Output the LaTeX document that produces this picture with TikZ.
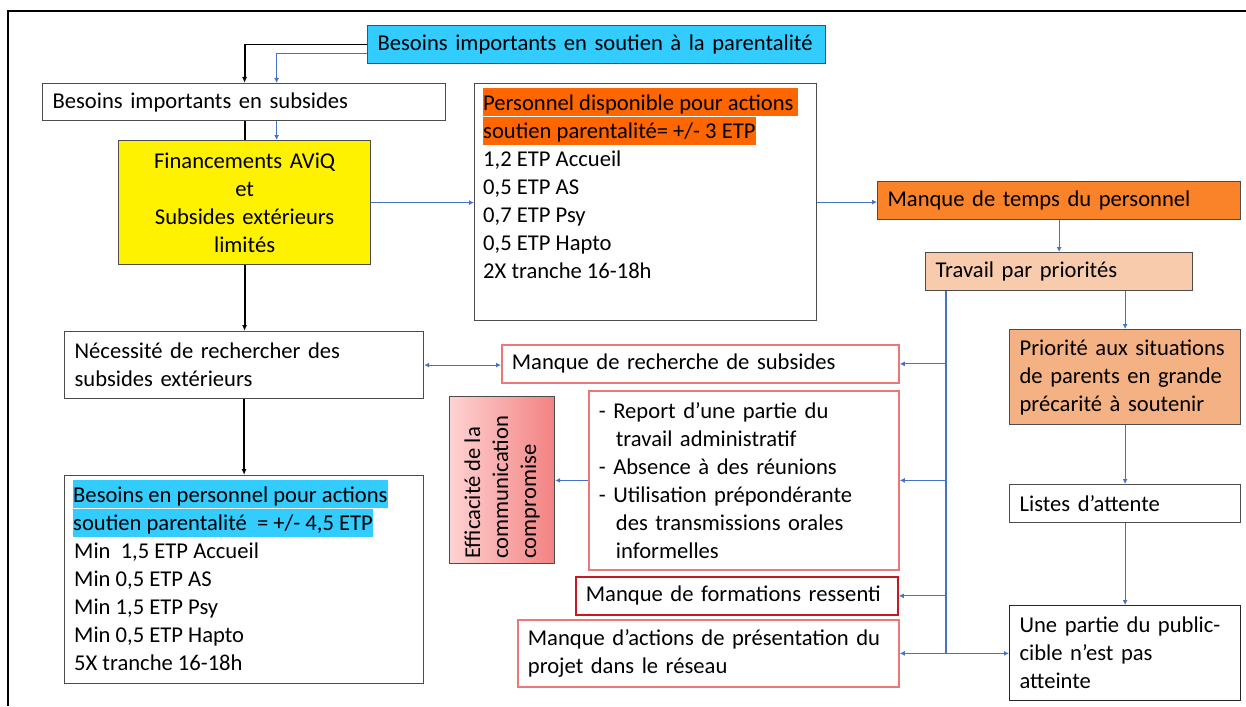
\documentclass[tikz,border=0pt]{standalone}
\usepackage{fontspec}
\setmainfont{Carlito}
\usepackage{tikz}
\usetikzlibrary{arrows.meta,positioning,calc}

\definecolor{cyanhl}{RGB}{51,204,255}
\definecolor{orangehl}{RGB}{255,102,0}
\definecolor{tempsfill}{RGB}{250,130,40}
\definecolor{travfill}{RGB}{248,203,173}
\definecolor{priofill}{RGB}{244,177,131}
\definecolor{redline}{RGB}{235,120,120}
\definecolor{darkred}{RGB}{200,25,35}
\definecolor{linkblue}{RGB}{68,114,196}
\definecolor{pinkL}{RGB}{255,210,210}
\definecolor{pinkD}{RGB}{242,130,130}

\newcommand{\dfont}{\fontsize{22.6pt}{28pt}\selectfont\hyphenpenalty=10000}

\begin{document}
\begin{tikzpicture}[x=1pt,y=-1pt,
  bx/.style={draw=black!70,line width=1.2pt,rectangle,anchor=north west,inner xsep=10pt,inner ysep=0pt,font=\dfont,align=left},
  rbx/.style={bx,draw=redline,line width=1.8pt},
  hl/.style={fill=#1,inner sep=0pt,anchor=north west,font=\dfont,text height=22pt,text depth=6pt},
  txt/.style={inner sep=0pt,anchor=base west,font=\dfont,align=left},
  blk/.style={line width=1.8pt,-{Latex[length=6pt,width=5pt]}},
  bline/.style={draw=linkblue,line width=1.1pt},
  blu/.style={bline,-{Latex[length=5pt,width=5pt]}}]
\useasboundingbox (0,0) rectangle (1246,706);
\draw[line width=2pt] (1246,11) -- (8,11) -- (8,706);

% left column
\node[bx,fill=cyanhl,inner xsep=8pt,text width=442pt,minimum height=38pt] (top) at (367,25) {\hspace*{2pt}Besoins importants en soutien à la parentalité};
\node[bx,text width=383pt,minimum height=37pt] (subs) at (42,83) {Besoins importants en subsides};
\node[bx,fill=yellow,text width=232pt,minimum height=124pt,align=center] (fin) at (118,140) {Financements AViQ\\et\\Subsides extérieurs\\limités};
\node[bx,text width=339pt,minimum height=67pt] (necess) at (64,331) {Nécessité de rechercher des\\subsides extérieurs};
\node[bx,inner sep=0pt,minimum width=359pt,minimum height=208pt] (besp) at (64,475) {};
\node[hl=cyanhl] (b1) at (73,480) {Besoins en personnel pour actions};
\node[hl=cyanhl] (b2) at (b1.south west) {soutien parentalité\ \ = +/- 4,5 ETP};
\node[txt] (b3) at (74,670) {Min\ \ 1,5 ETP Accueil\\Min 0,5 ETP AS\\Min 1,5 ETP Psy\\Min 0,5 ETP Hapto\\5X tranche 16-18h};

% personnel
\node[bx,inner sep=0pt,minimum width=342pt,minimum height=237pt] (pers) at (474,83) {};
\node[hl=orangehl] (p1) at (483,88) {Personnel disponible pour actions\hspace*{4pt}};
\node[hl=orangehl] (p2) at (p1.south west) {soutien parentalité= +/- 3 ETP};
\node[txt] (p3) at (483,278) {1,2 ETP Accueil\\0,5 ETP AS\\0,7 ETP Psy\\0,5 ETP Hapto\\2X tranche 16-18h};

% right column
\node[bx,fill=tempsfill,text width=343pt,minimum height=38pt] (temps) at (877,181) {Manque de temps du personnel};
\node[bx,fill=travfill,text width=247pt,minimum height=38pt] (trav) at (925,252) {Travail par priorités};
\node[bx,fill=priofill,text width=211pt,minimum height=95pt] (prio) at (1009,329) {Priorité aux situations\\de parents en grande\\précarité à soutenir};
\node[bx,text width=211pt,minimum height=38pt] (listes) at (1009,484) {Listes d’attente};
\node[bx,draw=black!85,text width=211pt,minimum height=95pt] (public) at (1009,605) {Une partie du public-\\cible n’est pas\\atteinte};

% middle
\node[rbx,text width=377pt,minimum height=38pt] (rech) at (501,344) {Manque de recherche de subsides};
\node[rbx,text width=290pt,minimum height=179pt] (report) at (588,390) {- Report d’une partie du\\\hspace*{17pt}travail administratif\\- Absence à des réunions\\- Utilisation prépondérante\\\hspace*{17pt}des transmissions orales\\\hspace*{17pt}informelles};
\node[rbx,draw=darkred,text width=302pt,minimum height=38pt] (form) at (575,576) {Manque de formations ressenti};
\node[rbx,text width=361pt,minimum height=67pt] (pres) at (517,619) {Manque d’actions de présentation du\\projet dans le réseau};
\node[bx,inner sep=0pt,left color=pinkL,right color=pinkD,minimum width=105pt,minimum height=167pt] (eff) at (449,396) {};
\node[txt,anchor=center,rotate=90] (efftxt) at ([yshift=-7pt]eff.center) {Efficacité de la\\communication\\compromise};

% black links
\draw[blk] (top.west) -| (fin.north |- subs.north);
\draw[line width=1.8pt] (fin.north |- subs.south) -- (fin.north);
\draw[blk] (fin.south) -- (fin.south |- necess.north);
\draw[blk] (necess.south) -- (besp.north);

% blue links
\draw[blu] ([yshift=-9pt]top.west) -| ([xshift=32pt]fin.north |- subs.north);
\draw[blu] ([xshift=32pt]fin.north |- subs.south) -- ([xshift=32pt]fin.north);
\draw[blu] (fin.east) -- (fin.east -| pers.west);
\draw[blu] (pers.east) -- (pers.east -| temps.west);
\draw[blu] (temps.south) -- (temps.south |- trav.north);
\draw[blu] (trav.south -| prio.north) -- (prio.north);
\draw[blu] (prio.south) -- (listes.north);
\draw[blu] (listes.south) -- (public.north);
\coordinate (tr) at ([xshift=21pt]trav.south west);
\draw[bline] (tr) -- (tr |- pres.east);
\draw[blu] (tr |- rech.east) -- (rech.east);
\draw[blu] (tr |- report.east) -- (report.east);
\draw[blu] (tr |- form.east) -- (form.east);
\draw[blu] (tr |- pres.east) -- (pres.east);
\draw[blu] (tr |- pres.east) -- (pres.east -| public.west);
\draw[bline,{Latex[length=5pt,width=5pt]}-{Latex[length=5pt,width=5pt]}] (necess.east) -- (necess.east -| rech.west);
\draw[blu] (report.west) -- (report.west -| eff.east);
\end{tikzpicture}
\end{document}
